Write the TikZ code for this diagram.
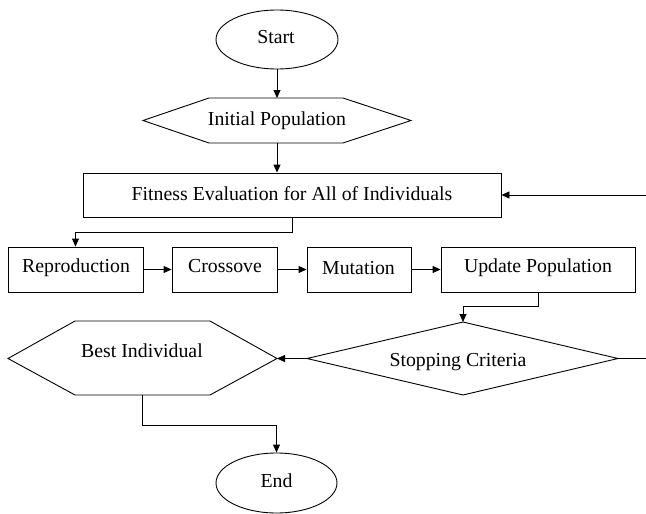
\documentclass[tikz,border=0pt]{standalone}
\usepackage{fontspec}
\setmainfont{Liberation Serif}
\usetikzlibrary{arrows.meta,shapes.geometric}
\begin{document}
\begin{tikzpicture}[x=1pt,y=-1pt,
  line width=0.9pt,
  arr/.style={-{Triangle[length=8pt,width=7pt]}},
  box/.style={draw,rectangle,inner sep=0pt},
  oval/.style={draw,ellipse,inner sep=0pt},
  lbl/.style={inner sep=0pt,font=\fontsize{19.8}{22}\selectfont}]
\useasboundingbox (0,0) rectangle (646,514);
% Start
\node[oval,minimum width=122pt,minimum height=59pt] (start) at (277,39.5) {};
\node[lbl] (startt) at (276,37) {Start};
% Initial population hexagon
\coordinate (iL) at (143,120.5); \coordinate (iR) at (411,120.5);
\coordinate (iTL) at (209,98); \coordinate (iTR) at (343,98);
\coordinate (iBL) at (209,143); \coordinate (iBR) at (343,143);
\coordinate (iT) at (277,98); \coordinate (iB) at (277,143);
\draw (iL) -- (iTL) -- (iTR) -- (iR) -- (iBR) -- (iBL) -- cycle;
\node[lbl] (init) at (277,121) {Initial Population};
% Fitness
\node[box,minimum width=418pt,minimum height=44pt] (fit) at (292,195) {};
\node[lbl] (fitt) at (292,194) {Fitness Evaluation for All of Individuals};
% Row
\node[box,minimum width=135pt,minimum height=45pt] (rep) at (75.5,269.5) {};
\node[lbl] at (76,268) {Reproduction};
\node[box,minimum width=105pt,minimum height=45pt] (cro) at (224.5,269.5) {};
\node[lbl] at (225,266) {Crossove};
\node[box,minimum width=104pt,minimum height=45pt] (mut) at (359,269.5) {};
\node[lbl] at (358.5,268) {Mutation};
\node[box,minimum width=194pt,minimum height=45pt] (upd) at (538,269.5) {};
\node[lbl] at (538,268) {Update Population};
% Stopping criteria diamond
\coordinate (sL) at (307,358.5); \coordinate (sR) at (618,358.5);
\coordinate (sT) at (463,322); \coordinate (sB) at (463,395);
\draw (sL) -- (sT) -- (sR) -- (sB) -- cycle;
\node[lbl] (stop) at (458,362) {Stopping Criteria};
% Best individual hexagon
\coordinate (bL) at (8,358.5); \coordinate (bR) at (277,358.5);
\coordinate (bTL) at (75,321); \coordinate (bTR) at (210,321);
\coordinate (bBL) at (75,395); \coordinate (bBR) at (210,395);
\coordinate (bB) at (142.5,395);
\draw (bL) -- (bTL) -- (bTR) -- (bR) -- (bBR) -- (bBL) -- cycle;
\node[lbl] (best) at (142,351) {Best Individual};
% End
\node[oval,minimum width=121pt,minimum height=60pt] (end) at (276.5,483) {};
\node[lbl] at (276.5,481) {End};
% right-side free ends
\coordinate (rin) at (646,195);
\coordinate (rout) at (646,358.5);
% connectors
\draw[arr] (start.south) -- (iT);
\draw[arr] (iB) -- (iB |- fit.north);
\draw[arr] (rin) -- (fit.east);
\draw[arr] (fit.south) -- ++(0,15) -| (rep.north);
\draw[arr] (rep.east) -- (cro.west);
\draw[arr] (cro.east) -- (mut.west);
\draw[arr] (mut.east) -- (upd.west);
\draw[arr] (upd.south) -- ++(0,14) -| (sT);
\draw (sR) -- (rout);
\draw[arr] (sL) -- (bR);
\draw[arr] (bB) -- ++(0,30) -| (end.north);
\end{tikzpicture}
\end{document}
